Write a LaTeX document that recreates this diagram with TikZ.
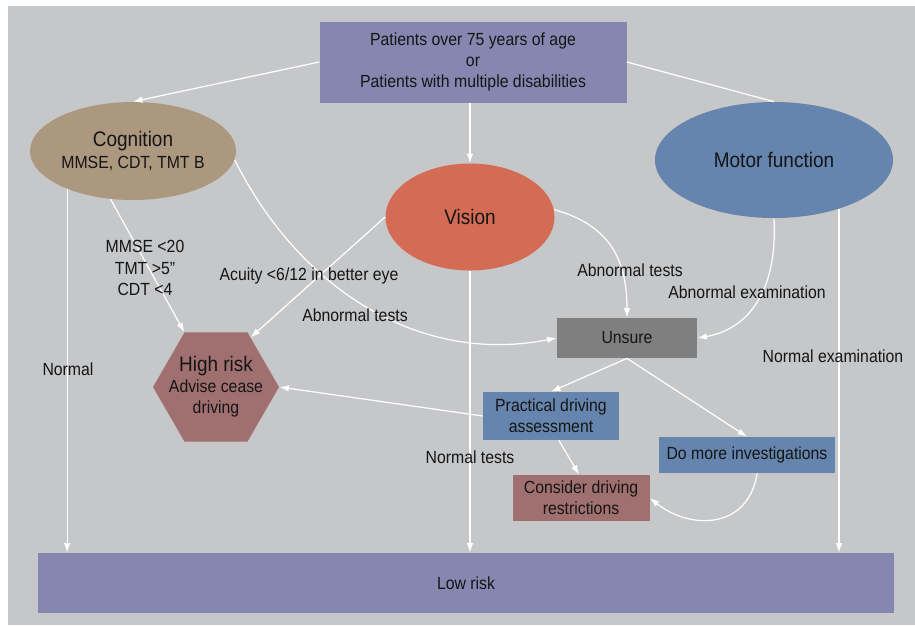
\documentclass[tikz,border=0pt]{standalone}
\usepackage{fontspec}
\setmainfont{Liberation Sans}[FakeStretch=0.9]
\usetikzlibrary{shapes.geometric,arrows.meta,positioning}

\definecolor{bggray}{HTML}{C6C7C9}
\definecolor{topblue}{HTML}{8587B0}
\definecolor{cogtan}{HTML}{AC977F}
\definecolor{visred}{HTML}{D46B55}
\definecolor{motblue}{HTML}{6585AE}
\definecolor{unsgray}{HTML}{7F7F7F}
\definecolor{riskred}{HTML}{A07070}
\definecolor{txtblack}{HTML}{151515}

\begin{document}
\begin{tikzpicture}[
        x=0.2mm, y=-0.2mm,
        box/.style={rectangle, inner sep=0pt, align=center, text=txtblack},
        oval/.style={ellipse, inner sep=0pt, align=center, text=txtblack},
        lbl/.style={inner sep=0pt, align=center, text=txtblack},
        link/.style={draw=white, line width=0.7pt},
        arrow/.style={link, -{Latex[length=1.9mm,width=1.3mm]}}
    ]
        % Background
        \fill[white] (0,0) rectangle (915,625);
        \fill[bggray] (8,6) rectangle (915,625);

        % Start and assessment areas
        \node (top) [box, fill=topblue, minimum width=61.4mm, minimum height=16.2mm] at (473,62) {Patients over 75 years of age\\or\\Patients with multiple disabilities};
        \node (cog) [oval, fill=cogtan, minimum width=41.2mm, minimum height=19.6mm] at (133,151) {{\large Cognition}\\MMSE, CDT, TMT B};
        \node (vis) [oval, fill=visred, minimum width=33.8mm, minimum height=21.4mm, font=\large] at (470,217) {Vision};
        \node (mot) [oval, fill=motblue, minimum width=47.6mm, minimum height=23.2mm, font=\large] at (774,160) {Motor function};

        % Outcomes
        \node (high) [regular polygon, regular polygon sides=6, fill=riskred, minimum size=25.2mm, inner sep=0pt,
            label={[align=center, text=txtblack]center:{{\large High risk}\\Advise cease\\driving}}] at (216,387) {};
        \node (unsure) [box, fill=unsgray, minimum width=28mm, minimum height=8mm] at (627,338) {Unsure};
        \node (prac) [box, fill=motblue, minimum width=27.2mm, minimum height=9.6mm] at (551,416) {Practical driving\\assessment};
        \node (more) [box, fill=motblue, minimum width=35.2mm, minimum height=7.2mm] at (747,455) {Do more investigations};
        \node (cons) [box, fill=riskred, minimum width=27.4mm, minimum height=9.2mm] at (581,498) {Consider driving\\restrictions};
        \node (low) [box, fill=topblue, minimum width=171mm, minimum height=12mm] at (466,583) {Low risk};

        % Connections
        \draw [arrow] (top.west) -- (cog.north);
        \draw [arrow] (top.south -| vis.north) -- (vis.north);
        \draw [link] (top.east) -- (mot.north);

        \draw [arrow] (cog.210) -- (cog.210 |- low.north);
        \draw [arrow] (cog.245) -- (high.120);
        \draw [arrow] (cog.355) .. controls (300,290) and (420,365) .. (unsure.west);

        \draw [arrow] (vis.west) -- (high.55);
        \draw [arrow] (vis.south) -- (vis.south |- low.north);
        \draw [arrow] (vis.5) .. controls (610,225) and (627,260) .. (unsure.north);

        \draw [arrow] (mot.south) .. controls (778,295) and (745,330) .. (unsure.east);
        \draw [arrow] (mot.323) -- (mot.323 |- low.north);

        \draw [arrow] (unsure.south) -- (prac.north);
        \draw [arrow] (unsure.south) -- (more.north);
        \draw [arrow] (prac.west) -- (high.east);
        \draw [arrow] (prac.288) -- (cons.95);
        \draw [arrow] (more.299) .. controls (748,530) and (690,530) .. (cons.east);

        % Labels
        \node (lnorm) [lbl] at (68,369) {Normal};
        \node (lmmse) [lbl] at (145,268) {MMSE <20\\TMT >5”\\CDT <4};
        \node (lacuity) [lbl] at (309,276) {Acuity <6/12 in better eye};
        \node (labncog) [lbl] at (355,315) {Abnormal tests};
        \node (lnormvis) [lbl] at (470,457) {Normal tests};
        \node (labnvis) [lbl] at (630,270) {Abnormal tests};
        \node (labnmot) [lbl] at (747,292) {Abnormal examination};
        \node (lnormmot) [lbl] at (833,356) {Normal examination};

    \end{tikzpicture}
\end{document}
